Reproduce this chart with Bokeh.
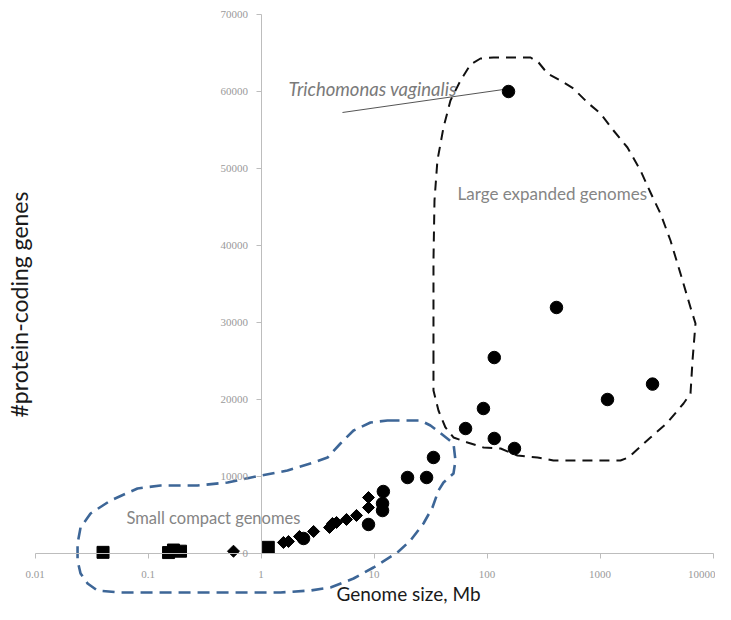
import math
from bokeh.plotting import figure
from bokeh.models import (Range1d, LogAxis, LinearAxis, FixedTicker,
                          CustomJSTickFormatter, Label)
from bokeh.embed import file_html
from bokeh.resources import INLINE

# ---------------- data ----------------
x_ticks = [0.01, 0.1, 1, 10, 100, 1000, 10000]
y_ticks = [0, 10000, 20000, 30000, 40000, 50000, 60000, 70000]

square_size_mb = [0.040, 0.152, 0.168, 0.194, 1.16]
square_genes = [150, 120, 450, 300, 800]

diamond_size_mb = [0.571, 1.58, 1.75, 2.19, 2.92, 4.04, 4.29, 4.66, 5.71, 7.0, 8.94, 8.94]
diamond_genes = [300, 1430, 1560, 2210, 2860, 3380, 3900, 4030, 4420, 4940, 5970, 7270]

circle_size_mb = [2.38, 8.94, 11.9, 11.9, 12.1, 19.8, 29.2, 33.6, 64.6, 93, 116, 116,
                  175, 155, 412, 1165, 2917]
circle_genes = [1950, 3770, 5580, 6490, 8050, 9870, 9870, 12470, 16230, 18830, 14940,
                25450, 13640, 60000, 31950, 20000, 22000]

# outline of "Small compact genomes" region (Mb, genes)
small_x = [13.17, 25.8, 31.6, 41.2, 50.5, 52.6, 50.5, 41.2, 37.2, 32.9, 27.4, 21.0, 16.1,
           9.9, 6.59, 4.12, 2.74, 1.49, 0.438, 0.0572, 0.0357, 0.0292, 0.0253, 0.0238,
           0.0238, 0.0253, 0.031, 0.0466, 0.0807, 0.129, 0.274, 0.506, 1.0, 1.716, 2.92,
           3.88, 5.05, 6.59, 9.31]
small_y = [17273, 17273, 16623, 15325, 14286, 12078, 10390, 9221, 8182, 5974, 3896, 1688,
           130, -1818, -3247, -4416, -4805, -5065, -5065, -5065, -4805, -3896, -2597,
           -909, 1299, 3377, 5195, 6883, 8442, 8831, 8831, 9221, 10130, 10779, 11818,
           12468, 14286, 15974, 17013]

# outline of "Large expanded genomes" region (Mb, genes)
large_x = [33.6, 33.6, 34.3, 36.4, 41.2, 47.5, 58.3, 71.4, 87.6, 114, 243, 286, 343, 447,
           582, 774, 1009, 1316, 1750, 2281, 2797, 3428, 4205, 5153, 6323, 7000, 6588,
           6323, 5483, 3957, 2797, 1787, 1517, 387, 316, 280, 186, 132, 93.1, 67.2, 50.5,
           42.9, 37.2, 33.6]
large_y = [25065, 38052, 45844, 51039, 55325, 58831, 61429, 63506, 64286, 64416, 64416,
           63766, 62338, 61429, 60390, 58571, 57143, 54935, 52727, 49740, 46883, 44156,
           40649, 36364, 31948, 29870, 25065, 20779, 19481, 17013, 15065, 12468, 12078,
           12078, 12338, 12468, 12727, 13636, 13766, 14416, 15065, 16364, 18571, 21169]

pointer_x = [5.26, 140]
pointer_y = [57273, 60260]

# ---------------- figure ----------------
W, H = 715, 604

def xr(px):
    return 10 ** ((px - 260.5) / 113.0)

def yr(py):
    return (553 - py) * 10000 / 77.0

p = figure(width=W, height=H, x_axis_type="log",
           x_range=Range1d(xr(0), xr(W)), y_range=Range1d(yr(H), yr(0)),
           x_axis_location=None, y_axis_location=None,
           output_backend="svg", toolbar_location=None, min_border=0,
           outline_line_color=None)
p.grid.visible = False

tick_font = "Liberation Serif"
tick_color = "#9a9a9a"
axis_color = "#bdbdbd"

xa = LogAxis(fixed_location=0, bounds=(0.01, 10000),
             ticker=FixedTicker(ticks=x_ticks, minor_ticks=[]),
             formatter=CustomJSTickFormatter(code="return tick.toString();"))
xa.axis_line_color = axis_color
xa.major_tick_line_color = axis_color
xa.major_tick_out = 5
xa.major_tick_in = 0
xa.minor_tick_line_color = None
xa.major_label_text_font = tick_font
xa.major_label_text_font_size = "11px"
xa.major_label_text_color = tick_color
xa.major_label_standoff = 12
p.add_layout(xa, "below")

ya = LinearAxis(fixed_location=1, bounds=(0, 70000),
                ticker=FixedTicker(ticks=y_ticks, minor_ticks=[]))
ya.axis_line_color = axis_color
ya.major_tick_line_color = axis_color
ya.major_tick_out = 5
ya.major_tick_in = 0
ya.minor_tick_line_color = None
ya.major_label_text_font = tick_font
ya.major_label_text_font_size = "11px"
ya.major_label_text_color = tick_color
ya.major_label_standoff = 8
p.add_layout(ya, "left")

# region outlines
p.patch(small_x, small_y, fill_color=None, line_color="#3d6697", line_width=2.6,
        line_dash="12 7", line_join="round")
p.patch(large_x, large_y, fill_color=None, line_color="#111111", line_width=2,
        line_dash="10 7", line_join="round")

# pointer line
p.line(pointer_x, pointer_y, line_color="#555555", line_width=1)

# points
p.scatter(square_size_mb, square_genes, marker="square", size=12, color="black")
p.scatter(diamond_size_mb, diamond_genes, marker="square", size=8.5, angle=math.pi / 4,
          color="black")
p.scatter(circle_size_mb, circle_genes, marker="circle", size=12.5, color="black")

# annotations
txt_font = "Lato"
txt_color = "#858585"
p.add_layout(Label(x=xr(288), y=yr(88), text="Trichomonas vaginalis",
                   text_font=txt_font, text_font_style="italic", text_font_size="18.5px",
                   text_color="#7a7a7a", text_baseline="middle", text_align="left"))
p.add_layout(Label(x=xr(457), y=yr(193), text="Large expanded genomes",
                   text_font=txt_font, text_font_size="17px", text_color=txt_color,
                   text_baseline="middle", text_align="left"))
p.add_layout(Label(x=xr(126), y=yr(517), text="Small compact genomes",
                   text_font=txt_font, text_font_size="16.5px", text_color=txt_color,
                   text_baseline="middle", text_align="left"))

p.add_layout(Label(x=xr(408), y=yr(593), text="Genome size, Mb",
                   text_font=txt_font, text_font_size="19px", text_color="#1a1a1a",
                   text_baseline="middle", text_align="center"))
p.add_layout(Label(x=xr(18), y=yr(304), text="#protein-coding genes", angle=math.pi / 2,
                   text_font=txt_font, text_font_size="23px", text_color="#1a1a1a",
                   text_baseline="middle", text_align="center"))

open("out.html", "w").write(file_html(p, INLINE))
